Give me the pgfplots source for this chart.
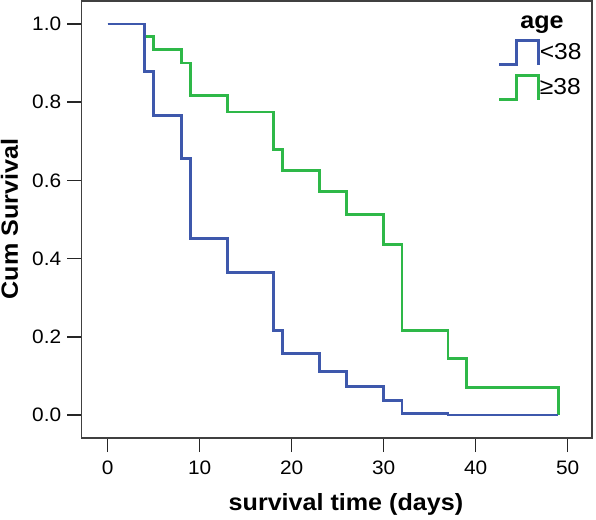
\documentclass[border=0pt]{standalone}
\usepackage{fontspec}
\setmainfont{Liberation Sans}[FakeStretch=1.07]
\usepackage{pgfplots}
\pgfplotsset{compat=1.18}
\definecolor{kmblue}{RGB}{62,88,172}
\definecolor{kmgreen}{RGB}{46,184,72}
\begin{document}
\begin{tikzpicture}
\begin{axis}[
  scale only axis, width=382.9pt, height=327.75pt,
  xmin=-2.85, xmax=52.65, ymin=-0.0588, ymax=1.0588,
  xtick={0,10,20,30,40,50}, ytick={0,0.2,0.4,0.6,0.8,1.0},
  yticklabel style={inner xsep=4.5pt, /pgf/number format/fixed, /pgf/number format/fixed zerofill, /pgf/number format/precision=1},
  xticklabel style={yshift=-3pt},
  /pgf/number format/assume math mode=true,
  tick label style={font=\fontsize{14.6}{17}\selectfont},
  tick align=outside, xtick pos=bottom, ytick pos=left,
  major tick length=10.5pt,
  every tick/.style={line width=1.1pt, black!85},
  axis line style={line width=0.8pt, black!75},
  xlabel={survival time (days)},
  ylabel={Cum Survival},
  xlabel style={font=\bfseries\fontsize{17.6}{20}\selectfont, at={(axis description cs:0.518,-0.1517)}, anchor=center},
  ylabel style={font=\bfseries\fontsize{17.6}{20}\selectfont, at={(axis description cs:-0.141,0.501)}, anchor=center},
  reverse legend,
  legend style={at={(axis description cs:0.816,0.912)}, anchor=north west, draw=none, fill=none, inner sep=0pt, outer sep=0pt,
    font=\fontsize{17.25}{20}\selectfont, row sep=6pt, nodes={inner sep=0pt}},
  legend cell align=left,
  legend image code/.code={\draw[#1] (0pt,-9pt) -- (12.75pt,-9pt) -- (12.75pt,9pt) -- (29.25pt,9pt) -- (29.25pt,-9pt);},
  clip=false,
]
\addplot[const plot, kmgreen, line width=2.1pt] coordinates {
 (0,1) (4,0.969) (5,0.934) (8,0.900) (9,0.818) (13,0.775) (18,0.679) (19,0.626)
 (23,0.572) (26,0.512) (30,0.437) (32,0.217) (37,0.144) (39,0.071) (49,0.0)
};
\addlegendentry{≥38}
\addplot[const plot, kmblue, line width=2.1pt] coordinates {
 (0,1) (4,0.879) (5,0.765) (8,0.655) (9,0.451) (13,0.364) (18,0.216) (19,0.157)
 (23,0.111) (26,0.072) (30,0.0376) (32,0.004) (37,0.0) (49,0.0)
};
\addlegendentry{<38}
\node[font=\bfseries\fontsize{17.6}{20}\selectfont, anchor=base] at (axis description cs:0.902,0.938) {age};
\end{axis}
\pgfresetboundingbox
\path[use as bounding box] (-61.1pt,-60.75pt) rectangle (385.9pt,328.5pt);
\end{tikzpicture}
\end{document}
